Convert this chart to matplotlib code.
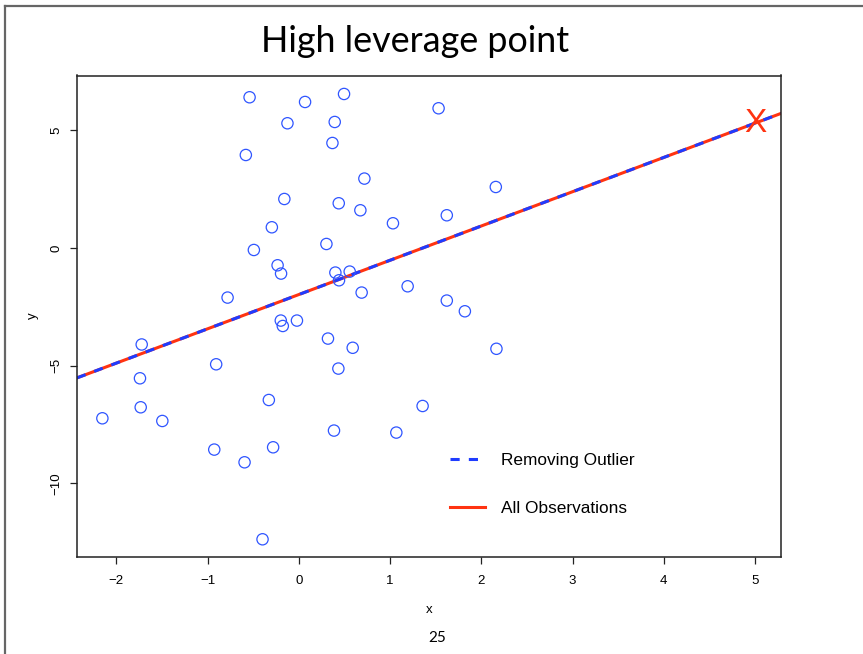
import matplotlib
matplotlib.use("Agg")
import matplotlib.pyplot as plt
from matplotlib.lines import Line2D

# ---- data ----
x_obs = [-0.539, 0.069, 0.496, 1.532, -0.124, 0.394, -0.580, 0.369, 0.719, 2.159,
         -0.158, 0.438, 0.675, 1.032, 1.622, -0.295, 0.303, -0.492, -0.232, -0.194,
         0.401, 0.558, 0.441, -0.780, 0.689, 1.193, 1.622, 1.820, -0.197, -0.175,
         -0.020, 0.320, 0.591, 2.166, -1.721, -0.905, -1.740, 0.434, -0.328, -1.732,
         -2.152, -1.495, 1.357, 0.386, 1.069, -0.926, -0.281, -0.594, -0.397]
y_obs = [6.405, 6.205, 6.545, 5.937, 5.300, 5.355, 3.952, 4.462, 2.949, 2.592,
         2.082, 1.900, 1.602, 1.050, 1.390, 0.880, 0.170, -0.085, -0.735, -1.088,
         -1.045, -1.003, -1.373, -2.108, -1.895, -1.628, -2.235, -2.690, -3.085, -3.315,
         -3.085, -3.850, -4.241, -4.284, -4.101, -4.943, -5.538, -5.125, -6.460, -6.770,
         -7.238, -7.352, -6.715, -7.760, -7.845, -8.568, -8.470, -9.108, -12.380]
outlier_x = [5.0]
outlier_y = [5.29]
# regression lines: (intercept, slope)
fit_all = [-1.98, 1.457]
fit_removed = [-1.98, 1.457]
x_ticks = [-2, -1, 0, 1, 2, 3, 4, 5]
y_ticks = [-10, -5, 0, 5]
legend_labels = ["Removing Outlier", "All Observations"]

BLUE_PT = "#2f55ff"
BLUE_LN = "#1f3cff"
RED = "#ff3311"
SANS = ["Liberation Sans", "DejaVu Sans"]

fig = plt.figure(figsize=(8.63, 6.54), dpi=100)

# slide frame (top and left edges)
fig.add_artist(Line2D([5/863, 5/863], [0, 1 - 6/654], transform=fig.transFigure,
                      color="#666666", lw=1.6))
fig.add_artist(Line2D([5/863, 1], [1 - 6/654, 1 - 6/654], transform=fig.transFigure,
                      color="#666666", lw=1.6))

ax = fig.add_axes([77/863, 1 - 556.7/654, (781 - 77)/863, (556.7 - 75.5)/654])

ax.scatter(x_obs, y_obs, s=66, facecolors="none", edgecolors=BLUE_PT, linewidths=0.9, zorder=3)

ax.axline((0, fit_all[0]), slope=fit_all[1], color=RED, lw=2.2, zorder=2)
ax.axline((0, fit_removed[0]), slope=fit_removed[1], color=BLUE_LN, lw=2.2,
          dashes=(3, 3), zorder=2.5)

for xo, yo in zip(outlier_x, outlier_y):
    ax.text(xo, yo, "X", color=RED, fontsize=24, ha="center", va="center",
            family=SANS, zorder=4)

ax.set_xlim(-2.43, 5.284)
ax.set_ylim(-13.12, 7.33)
ax.set_xticks(x_ticks)
ax.set_yticks(y_ticks)
ax.tick_params(direction="out", length=5, width=0.9, labelsize=9.5, color="#222222")
ax.tick_params(axis="x", pad=8)
ax.tick_params(axis="y", pad=5.5)
for lab in ax.get_yticklabels():
    lab.set_rotation(90)
    lab.set_va("center")
for lab in ax.get_xticklabels() + ax.get_yticklabels():
    lab.set_family(SANS)
for s in ax.spines.values():
    s.set_linewidth(1.1)
    s.set_color("#222222")

ax.set_xlabel("x", fontsize=9.5, family=SANS, labelpad=12.5)
ax.set_ylabel("y", fontsize=9.5, family=SANS, labelpad=8.5)

handles = [Line2D([], [], color=BLUE_LN, lw=2.2, dashes=(3, 3)),
           Line2D([], [], color=RED, lw=2.2)]
leg = ax.legend(handles, legend_labels, loc="upper left", bbox_to_anchor=(0.508, 0.247),
                frameon=False, prop={"family": SANS, "size": 12.4},
                handlelength=2.0, handletextpad=0.93, labelspacing=1.87)

fig.text(415/863, 1 - 42/654, "High leverage point", fontsize=25.8, family=["Lato", "DejaVu Sans"],
         ha="center", va="center")
fig.text(437/863, 1 - 638/654, "25", fontsize=11, family=["Lato", "DejaVu Sans"],
         ha="center", va="center")

fig.savefig("out.png", dpi=100)
